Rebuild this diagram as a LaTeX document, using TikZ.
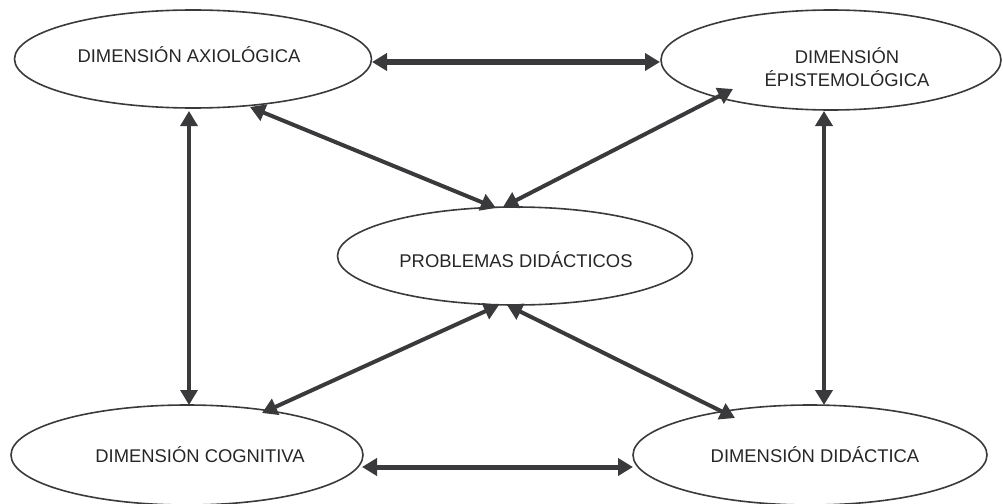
\documentclass[tikz,border=0pt]{standalone}
\usepackage{fontspec}
\setmainfont{Liberation Sans}
\usetikzlibrary{shapes.geometric,arrows.meta,calc}
\definecolor{ink}{RGB}{58,58,60}
\definecolor{textink}{RGB}{38,38,40}
\tikzset{
  bubble/.style={ellipse,draw=ink,line width=1.6pt,inner sep=0pt},
  lbl/.style={text=textink,font=\fontsize{18.4}{23}\selectfont,align=center,inner sep=0pt},
  link/.style={draw=ink,{Triangle[length=15pt,width=17pt]}-{Triangle[length=15pt,width=17pt]}},
}
\begin{document}
\begin{tikzpicture}[x=1pt,y=-1pt]
\useasboundingbox (0,0) rectangle (1003,503);
% ellipses
\node[bubble,minimum width=357pt,minimum height=98pt] (axio) at (193,59) {};
\node[bubble,minimum width=340pt,minimum height=100pt] (epis) at (831,60) {};
\node[bubble,minimum width=355pt,minimum height=98pt] (prob) at (515,256) {};
\node[bubble,minimum width=352pt,minimum height=100pt] (cog) at (187,455) {};
\node[bubble,minimum width=354pt,minimum height=100pt] (did) at (810,455) {};
% texts
\node[lbl,anchor=base] (axiot) at (189,63) {DIMENSIÓN AXIOLÓGICA};
\node[lbl] (epist) at (847,67) {DIMENSIÓN\\ÉPISTEMOLÓGICA};
\node[lbl,anchor=base] (probt) at (516,267) {PROBLEMAS DIDÁCTICOS};
\node[lbl,anchor=base] (cogt) at (200,462) {DIMENSIÓN COGNITIVA};
\node[lbl,anchor=base] (didt) at (815,462) {DIMENSIÓN DIDÁCTICA};
% connectors
\draw[link,line width=5pt] ($(axio.center)+(179,3)$) -- ($(epis.center)+(-171,2)$);
\draw[link,line width=3.2pt] ($(axio.center)+(-4,52)$) -- ($(cog.center)+(2,-50)$);
\draw[link,line width=4pt] ($(epis.center)+(-7,51)$) -- ($(did.center)+(14,-50)$);
\draw[link,line width=5pt] ($(cog.center)+(175,12)$) -- ($(did.center)+(-177,12)$);
\draw[link,line width=4pt] ($(axio.center)+(57,48)$) -- ($(prob.center)+(-19,-48)$);
\draw[link,line width=4pt] ($(epis.center)+(-98,29)$) -- ($(prob.center)+(-12,-49)$);
\draw[link,line width=4pt] ($(prob.center)+(-16,49)$) -- ($(cog.center)+(75,-42)$);
\draw[link,line width=4pt] ($(prob.center)+(-8,49)$) -- ($(did.center)+(-75,-37)$);
\end{tikzpicture}
\end{document}
